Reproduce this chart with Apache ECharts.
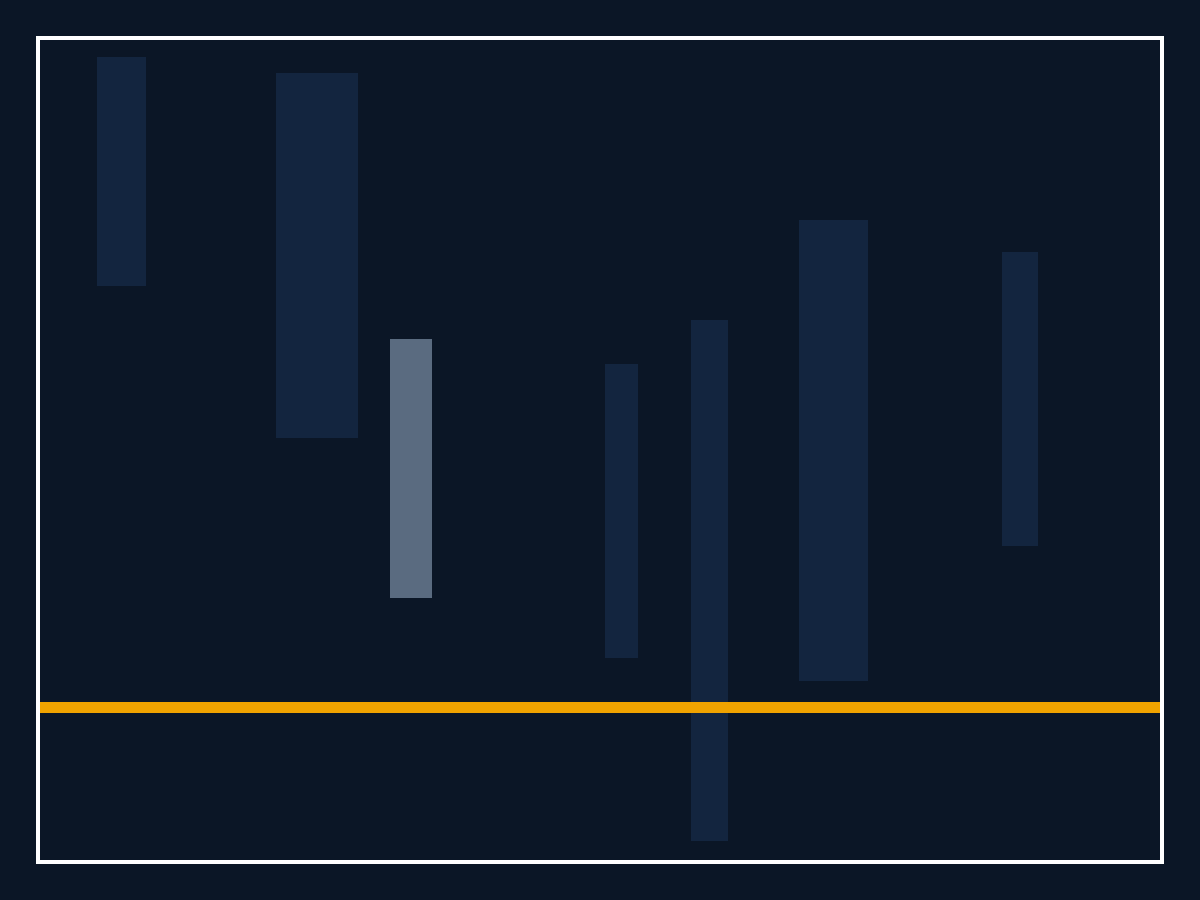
<!DOCTYPE html>
<html>
<head>
<meta charset="utf-8">
<script src="https://cdn.jsdelivr.net/npm/echarts@6/dist/echarts.min.js"></script>
<style>
  html, body { margin: 0; padding: 0; background: #0b1626; }
  #chart { width: 1200px; height: 900px; }
</style>
</head>
<body>
<div id="chart"></div>
<script>
// ranges (x in tenths of plot width units, y in plot units)
var xStart = [5.7, 23.6, 35.0, 56.5, 65.1, 75.9, 96.2];
var xEnd   = [10.6, 31.8, 39.2, 59.8, 68.8, 82.8, 99.8];
var yLow   = [57.4, 42.2, 26.2, 20.2, 1.9, 17.9, 31.4];
var yHigh  = [80.3, 78.7, 52.1, 49.6, 54.0, 64.0, 60.8];
var highlighted = [0, 0, 1, 0, 0, 0, 0];
var baseline = 15.25;

var chart = echarts.init(document.getElementById('chart'), null, {renderer: 'canvas'});

var rows = [];
for (var i = 0; i < xStart.length; i++) {
    rows.push([xStart[i], xEnd[i], yLow[i], yHigh[i], highlighted[i]]);
}

chart.setOption({
    backgroundColor: '#0b1626',
    animation: false,
    grid: [
        {left: 40, right: 40, top: 40, bottom: 40, show: false},
        // frame around the plot
        {left: 38, right: 38, top: 38, bottom: 38, show: true,
         borderColor: '#ffffff', borderWidth: 4, backgroundColor: 'transparent'}
    ],
    xAxis: [
        {type: 'value', min: 0, max: 112, show: false, gridIndex: 0},
        {type: 'value', min: 0, max: 1, show: false, gridIndex: 1}
    ],
    yAxis: [
        {type: 'value', min: 0, max: 82, show: false, gridIndex: 0},
        {type: 'value', min: 0, max: 1, show: false, gridIndex: 1}
    ],
    series: [
        {
            type: 'custom',
            xAxisIndex: 0,
            yAxisIndex: 0,
            data: rows,
            encode: {x: [0, 1], y: [2, 3]},
            renderItem: function (params, api) {
                var p0 = api.coord([api.value(0), api.value(3)]);
                var p1 = api.coord([api.value(1), api.value(2)]);
                return {
                    type: 'rect',
                    shape: {x: p0[0], y: p0[1], width: p1[0] - p0[0], height: p1[1] - p0[1]},
                    style: {fill: api.value(4) ? '#5a6b80' : '#13253f'}
                };
            },
            z: 2
        },
        {
            type: 'line',
            xAxisIndex: 0,
            yAxisIndex: 0,
            data: [],
            markLine: {
                silent: true,
                symbol: ['none', 'none'],
                label: {show: false},
                lineStyle: {color: '#f0a300', width: 11, type: 'solid'},
                data: [{yAxis: baseline}]
            },
            z: 3
        }
    ]
});
</script>
</body>
</html>
